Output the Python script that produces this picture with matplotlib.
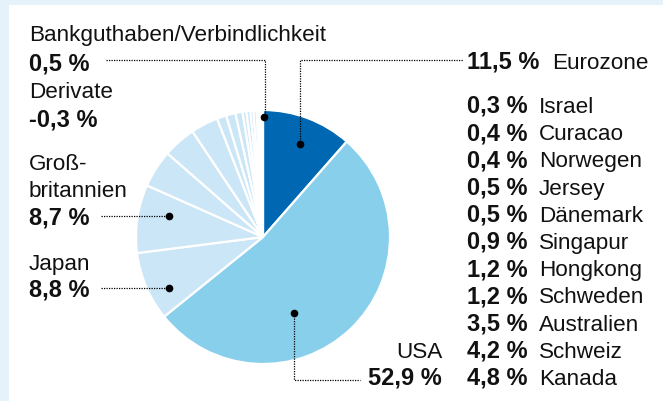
import numpy as np
import matplotlib.pyplot as plt
from matplotlib.patches import Rectangle

plt.rcParams['font.family'] = ['Liberation Sans', 'DejaVu Sans']

# slices clockwise from 12 o'clock
slices = ['Eurozone', 'USA', 'Japan', 'Großbritannien', 'Kanada', 'Schweiz',
          'Australien', 'Schweden', 'Hongkong', 'Singapur', 'Dänemark',
          'Jersey', 'Norwegen', 'Curacao', 'Israel', 'Bankguthaben']
values = [11.5, 52.9, 8.8, 8.7, 4.8, 4.2, 3.5, 1.2, 1.2, 0.9, 0.5, 0.5,
          0.4, 0.4, 0.3, 0.5]
derivate = -0.3

# right hand list (top to bottom)
right_names = ['Israel', 'Curacao', 'Norwegen', 'Jersey', 'Dänemark',
               'Singapur', 'Hongkong', 'Schweden', 'Australien', 'Schweiz',
               'Kanada']

dark = '#0068b3'
mid = '#88cfec'
pale = '#cbe6f6'
colors = [dark, mid] + [pale] * (len(values) - 2)
colors[-1] = 'white'

W, H = 663, 401
fig = plt.figure(figsize=(W / 100, H / 100), dpi=100, facecolor='#e5f2f9')
ax = fig.add_axes([0, 0, 1, 1])
ax.set_facecolor('#e5f2f9')

def Y(py):
    return H - py

def fmt(v):
    return ('%.1f' % v).replace('.', ',') + ' %'

ax.add_patch(Rectangle((9, 0), W - 9, Y(5), facecolor='white', edgecolor='none', zorder=0))

cx, cy, R = 263, Y(237), 127
ax.pie(values, colors=colors, startangle=90, counterclock=False,
       center=(cx, cy), radius=R,
       wedgeprops=dict(edgecolor='white', linewidth=1.6))

ax.set_xlim(0, W)
ax.set_ylim(0, H)
ax.set_aspect('auto')
ax.axis('off')

fs = 16.2
fsb = 17
val = dict(zip(slices, values))

def lbl(x, py, s, bold=False, ha='left'):
    ax.text(x, Y(py), s, fontsize=fsb if bold else fs,
            fontweight='bold' if bold else 'normal',
            ha=ha, va='baseline', color='#111111')

# left labels
lbl(29, 41, 'Bankguthaben/Verbindlichkeit')
lbl(29, 70, fmt(val['Bankguthaben']), True)
lbl(29, 98, 'Derivate')
lbl(29, 126, fmt(derivate), True)
lbl(29, 170, 'Groß-')
lbl(29, 197, 'britannien')
lbl(29, 225, fmt(val['Großbritannien']), True)
lbl(29, 270, 'Japan')
lbl(29, 297, fmt(val['Japan']), True)

# right labels
lbl(467, 69, fmt(val['Eurozone']), True)
lbl(552, 69, 'Eurozone')
for i, name in enumerate(right_names):
    py = 113 + i * 27.2
    lbl(467, py, fmt(val[name]), True)
    lbl(539, py, name)
lbl(442, 358, 'USA', ha='right')
lbl(442, 385, fmt(val['USA']), True, ha='right')

# leader lines
ls = dict(color='black', linewidth=0.9, linestyle=(0, (1, 1)))
def leader(pts, dot):
    xs = [p[0] for p in pts]
    ys = [Y(p[1]) for p in pts]
    ax.plot(xs, ys, **ls)
    ax.plot(dot[0], Y(dot[1]), 'o', color='black', markersize=4.5)

leader([(106, 60), (265, 60), (265, 117)], (264, 117))
leader([(300, 144), (300, 60), (463, 60)], (300, 144))
leader([(101, 216), (169, 216)], (169, 216))
leader([(101, 288), (169, 288)], (169, 288))
leader([(294, 313), (294, 380), (360, 380)], (294, 313))

fig.savefig('out.png', dpi=100, facecolor=fig.get_facecolor())
